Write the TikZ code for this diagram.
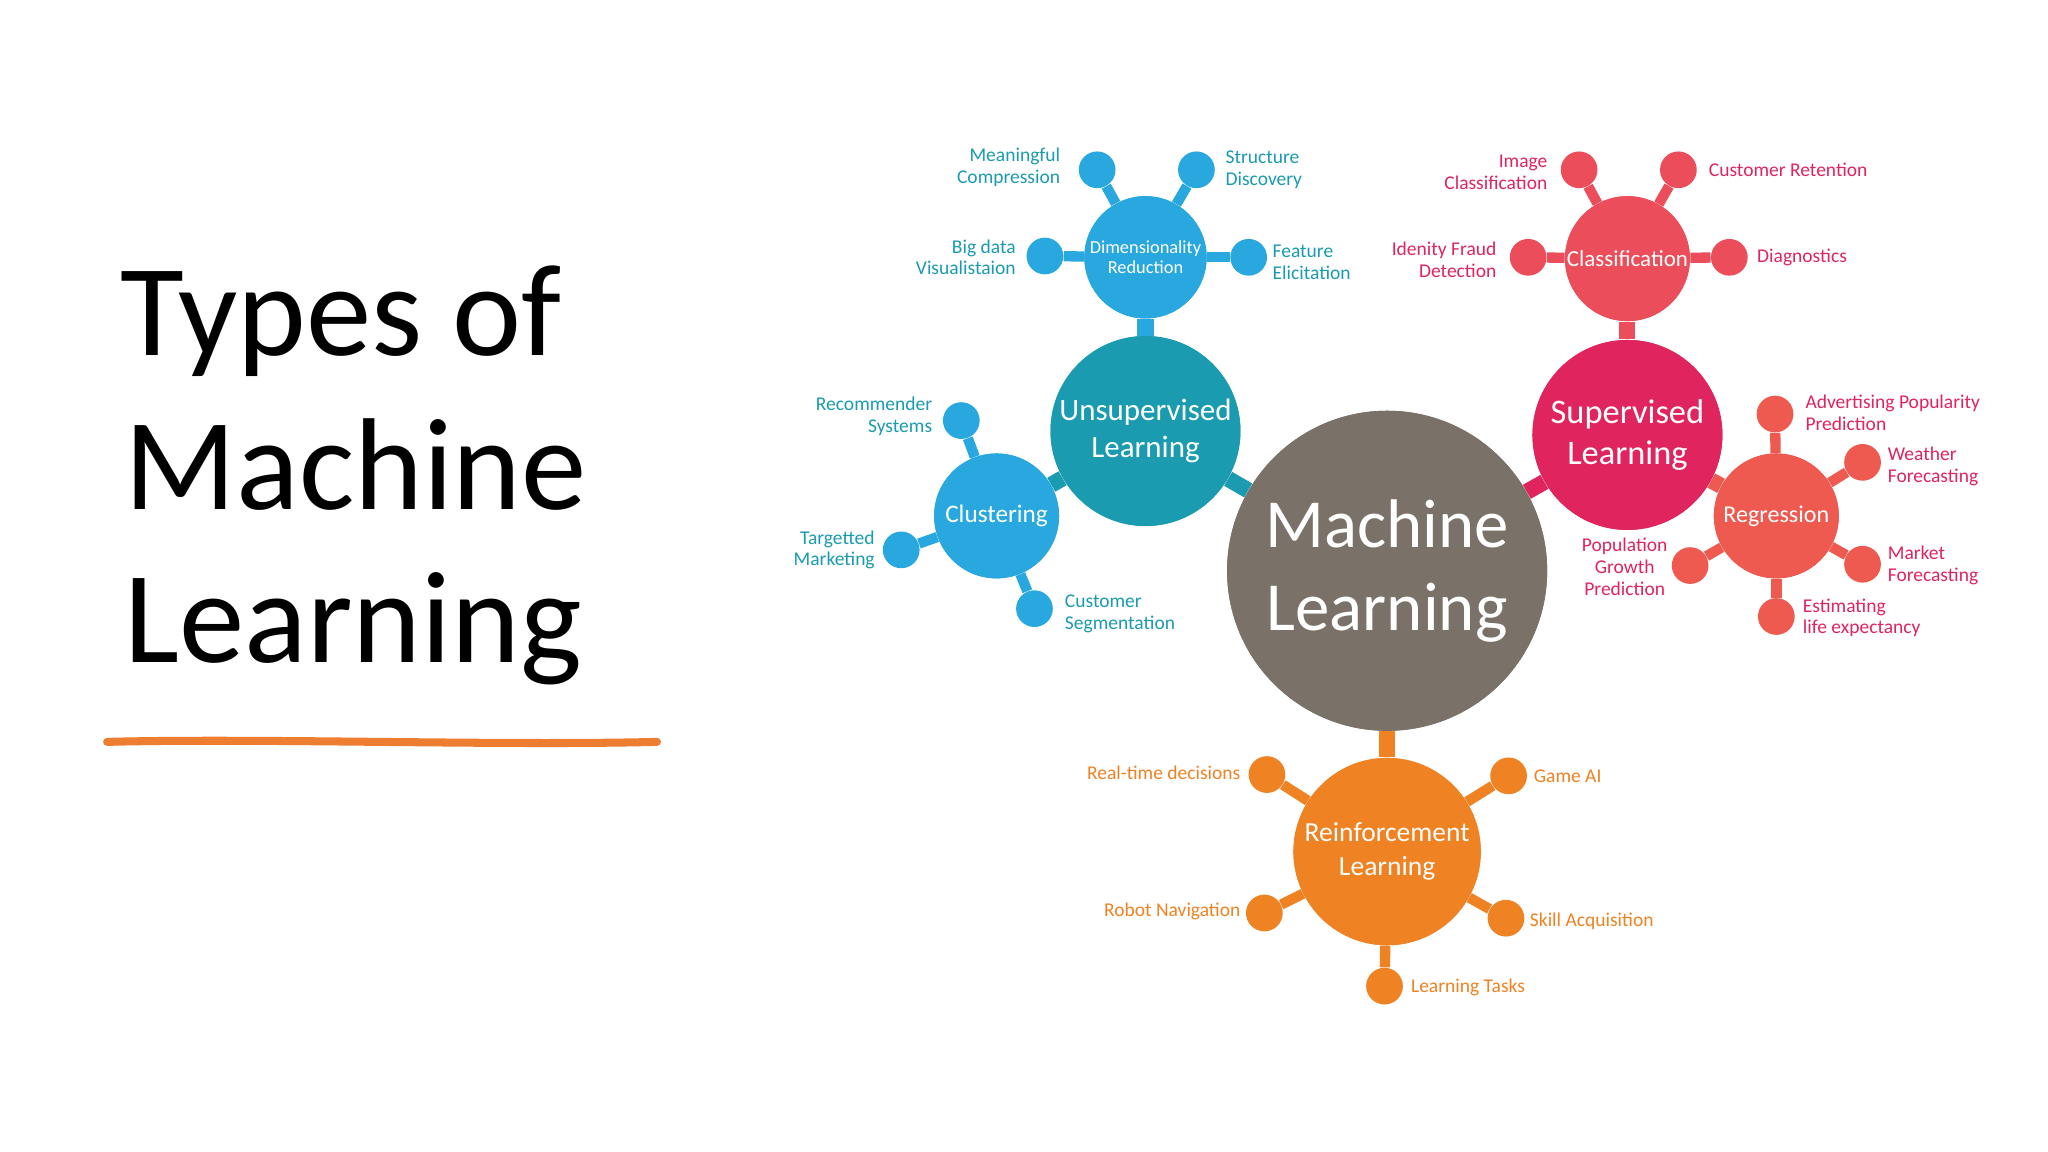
\documentclass[tikz,border=0pt]{standalone}
\usepackage{fontspec}
\setmainfont{Carlito}
\definecolor{mlg}{HTML}{7A7268}
\definecolor{uns}{HTML}{1A9BB0}
\definecolor{blu}{HTML}{29A8E0}
\definecolor{sup}{HTML}{E0245E}
\definecolor{cls}{HTML}{EC4D5A}
\definecolor{reg}{HTML}{EE5A50}
\definecolor{rein}{HTML}{EF8222}
\definecolor{ul}{HTML}{ED7D31}
\tikzset{
 hub/.style={circle,fill=#1,text=white,align=center,inner sep=0pt},
 dot/.style={circle,fill=#1,minimum size=16pt,inner sep=0pt},
 lbl/.style={text=#1,font=\fontsize{8.5}{9.5}\selectfont,inner sep=0pt},
 lk/.style={line width=4.5pt,draw=#1},
 mk/.style={line width=7pt,draw=#1}
}
\begin{document}
\begin{tikzpicture}[x=0.02cm,y=-0.02cm]
\useasboundingbox[fill=white] (0,0) rectangle (1568,882);
% title
\node[anchor=base west,inner sep=0pt,font=\fontsize{57}{66}\selectfont] (t1) at (92,272) {Types of};
\node[anchor=base west,inner sep=0pt,font=\fontsize{57}{66}\selectfont] (t2) at (95,390) {Machine};
\node[anchor=base west,inner sep=0pt,font=\fontsize{57}{66}\selectfont] (t3) at (95,507) {Learning};
\coordinate (u1) at (82,568); \coordinate (u2) at (503,568);
\draw[ul,line width=3.5pt,line cap=round] (u1) .. controls (200,565) and (380,571) .. (u2);
% hubs
\node[hub=mlg,minimum size=246*0.567pt,font=\fontsize{30}{34}\selectfont] (ml) at (1062,437) {Machine\\[2pt]Learning};
\node[hub=uns,minimum size=146*0.567pt,font=\fontsize{13.5}{16}\selectfont] (un) at (877,330) {Unsupervised\\Learning};
\node[hub=blu,minimum size=94*0.567pt,font=\fontsize{8}{9}\selectfont] (dr) at (877,197) {Dimensionality\\Reduction};
\node[hub=blu,minimum size=96*0.567pt,font=\fontsize{11}{13}\selectfont] (cl) at (763,395) {Clustering};
\node[hub=sup,minimum size=146*0.567pt,font=\fontsize{15}{18}\selectfont] (su) at (1246,333) {Supervised\\Learning};
\node[hub=cls,minimum size=96*0.567pt,font=\fontsize{10}{12}\selectfont] (ca) at (1246,198) {Classification};
\node[hub=reg,minimum size=96*0.567pt,font=\fontsize{10.5}{12}\selectfont] (rg) at (1360,395) {Regression};
\node[hub=rein,minimum size=144*0.567pt,font=\fontsize{12}{15}\selectfont] (rl) at (1062,652) {Reinforcement\\Learning};
% main links
\begin{scope}[on background layer/.style={}]
\end{scope}
% dots
\foreach \n/\c/\p in {d1/blu/{(840,130)},d2/blu/{(916,130)},d3/blu/{(800,196)},d4/blu/{(956,197)},
 c1/blu/{(736,322)},c2/blu/{(690,421)},c3/blu/{(792,466)},
 a1/cls/{(1209,130)},a2/cls/{(1285,130)},a3/cls/{(1170,197)},a4/cls/{(1324,197)},
 r1/reg/{(1359,317)},r2/reg/{(1426,354)},r3/reg/{(1294,433)},r4/reg/{(1426,432)},r5/reg/{(1360,472)},
 e1/rein/{(970,593)},e2/rein/{(1155,594)},e3/rein/{(968,699)},e4/rein/{(1153,703)},e5/rein/{(1060,755)}}
 {\node[dot=\c] (\n) at \p {};}
% links (drawn under nodes via redraw trick: draw lines then re-fill hubs)
\foreach \a/\b/\c in {dr/d1/blu,dr/d2/blu,dr/d3/blu,dr/d4/blu,cl/c1/blu,cl/c2/blu,cl/c3/blu,
 ca/a1/cls,ca/a2/cls,ca/a3/cls,ca/a4/cls,rg/r1/reg,rg/r2/reg,rg/r3/reg,rg/r4/reg,rg/r5/reg,
 rl/e1/rein,rl/e2/rein,rl/e3/rein,rl/e4/rein,rl/e5/rein}
 {\draw[lk=\c] (\a) -- (\b);}
\draw[mk=blu] (dr) -- (un);
\draw[mk=uns] (un) -- (cl);
\draw[mk=uns] (un) -- (ml);
\draw[mk=cls] (ca) -- (su);
\draw[mk=sup] (su) -- (ml);
\draw[mk=reg] (su) -- (rg);
\draw[mk=rein] (ml) -- (rl);
% labels
\node[lbl=uns,anchor=east,align=right] (l1) at (812,128) {Meaningful\\Compression};
\node[lbl=uns,anchor=west,align=left] (l2) at (938,130) {Structure\\Discovery};
\node[lbl=uns,anchor=east,align=right] (l3) at (778,197) {Big data\\Visualistaion};
\node[lbl=uns,anchor=west,align=left] (l4) at (974,201) {Feature\\Elicitation};
\node[lbl=uns,anchor=east,align=right] (l5) at (714,319) {Recommender\\Systems};
\node[lbl=uns,anchor=east,align=right] (l6) at (670,421) {Targetted\\Marketing};
\node[lbl=uns,anchor=west,align=left] (l7) at (815,470) {Customer\\Segmentation};
\node[lbl=sup,anchor=east,align=right] (l8) at (1185,132) {Image\\Classification};
\node[lbl=sup,anchor=west,align=left] (l9) at (1308,130) {Customer Retention};
\node[lbl=sup,anchor=east,align=right] (l10) at (1146,199) {Idenity Fraud\\Detection};
\node[lbl=sup,anchor=west,align=left] (l11) at (1345,197) {Diagnostics};
\node[lbl=sup,anchor=west,align=left] (l12) at (1382,316) {Advertising Popularity\\Prediction};
\node[lbl=sup,anchor=west,align=left] (l13) at (1445,357) {Weather\\Forecasting};
\node[lbl=sup,anchor=east,align=center] (l14) at (1277,434) {Population\\Growth\\Prediction};
\node[lbl=sup,anchor=west,align=left] (l15) at (1445,433) {Market\\Forecasting};
\node[lbl=sup,anchor=west,align=left] (l16) at (1380,473) {Estimating\\life expectancy};
\node[lbl=rein,anchor=east] (l17) at (950,592) {Real-time decisions};
\node[lbl=rein,anchor=west] (l18) at (1174,594) {Game AI};
\node[lbl=rein,anchor=east] (l19) at (950,698) {Robot Navigation};
\node[lbl=rein,anchor=west] (l20) at (1171,705) {Skill Acquisition};
\node[lbl=rein,anchor=west] (l21) at (1080,756) {Learning Tasks};
% redraw hubs on top
\node[hub=mlg,minimum size=246*0.567pt,font=\fontsize{30}{34}\selectfont] at (ml) {Machine\\[2pt]Learning};
\node[hub=uns,minimum size=146*0.567pt,font=\fontsize{13.5}{16}\selectfont] at (un) {Unsupervised\\Learning};
\node[hub=blu,minimum size=94*0.567pt,font=\fontsize{8}{9}\selectfont] at (dr) {Dimensionality\\Reduction};
\node[hub=blu,minimum size=96*0.567pt,font=\fontsize{11}{13}\selectfont] at (cl) {Clustering};
\node[hub=sup,minimum size=146*0.567pt,font=\fontsize{15}{18}\selectfont] at (su) {Supervised\\Learning};
\node[hub=cls,minimum size=96*0.567pt,font=\fontsize{10}{12}\selectfont] at (ca) {Classification};
\node[hub=reg,minimum size=96*0.567pt,font=\fontsize{10.5}{12}\selectfont] at (rg) {Regression};
\node[hub=rein,minimum size=144*0.567pt,font=\fontsize{12}{15}\selectfont] at (rl) {Reinforcement\\Learning};
\end{tikzpicture}
\end{document}
